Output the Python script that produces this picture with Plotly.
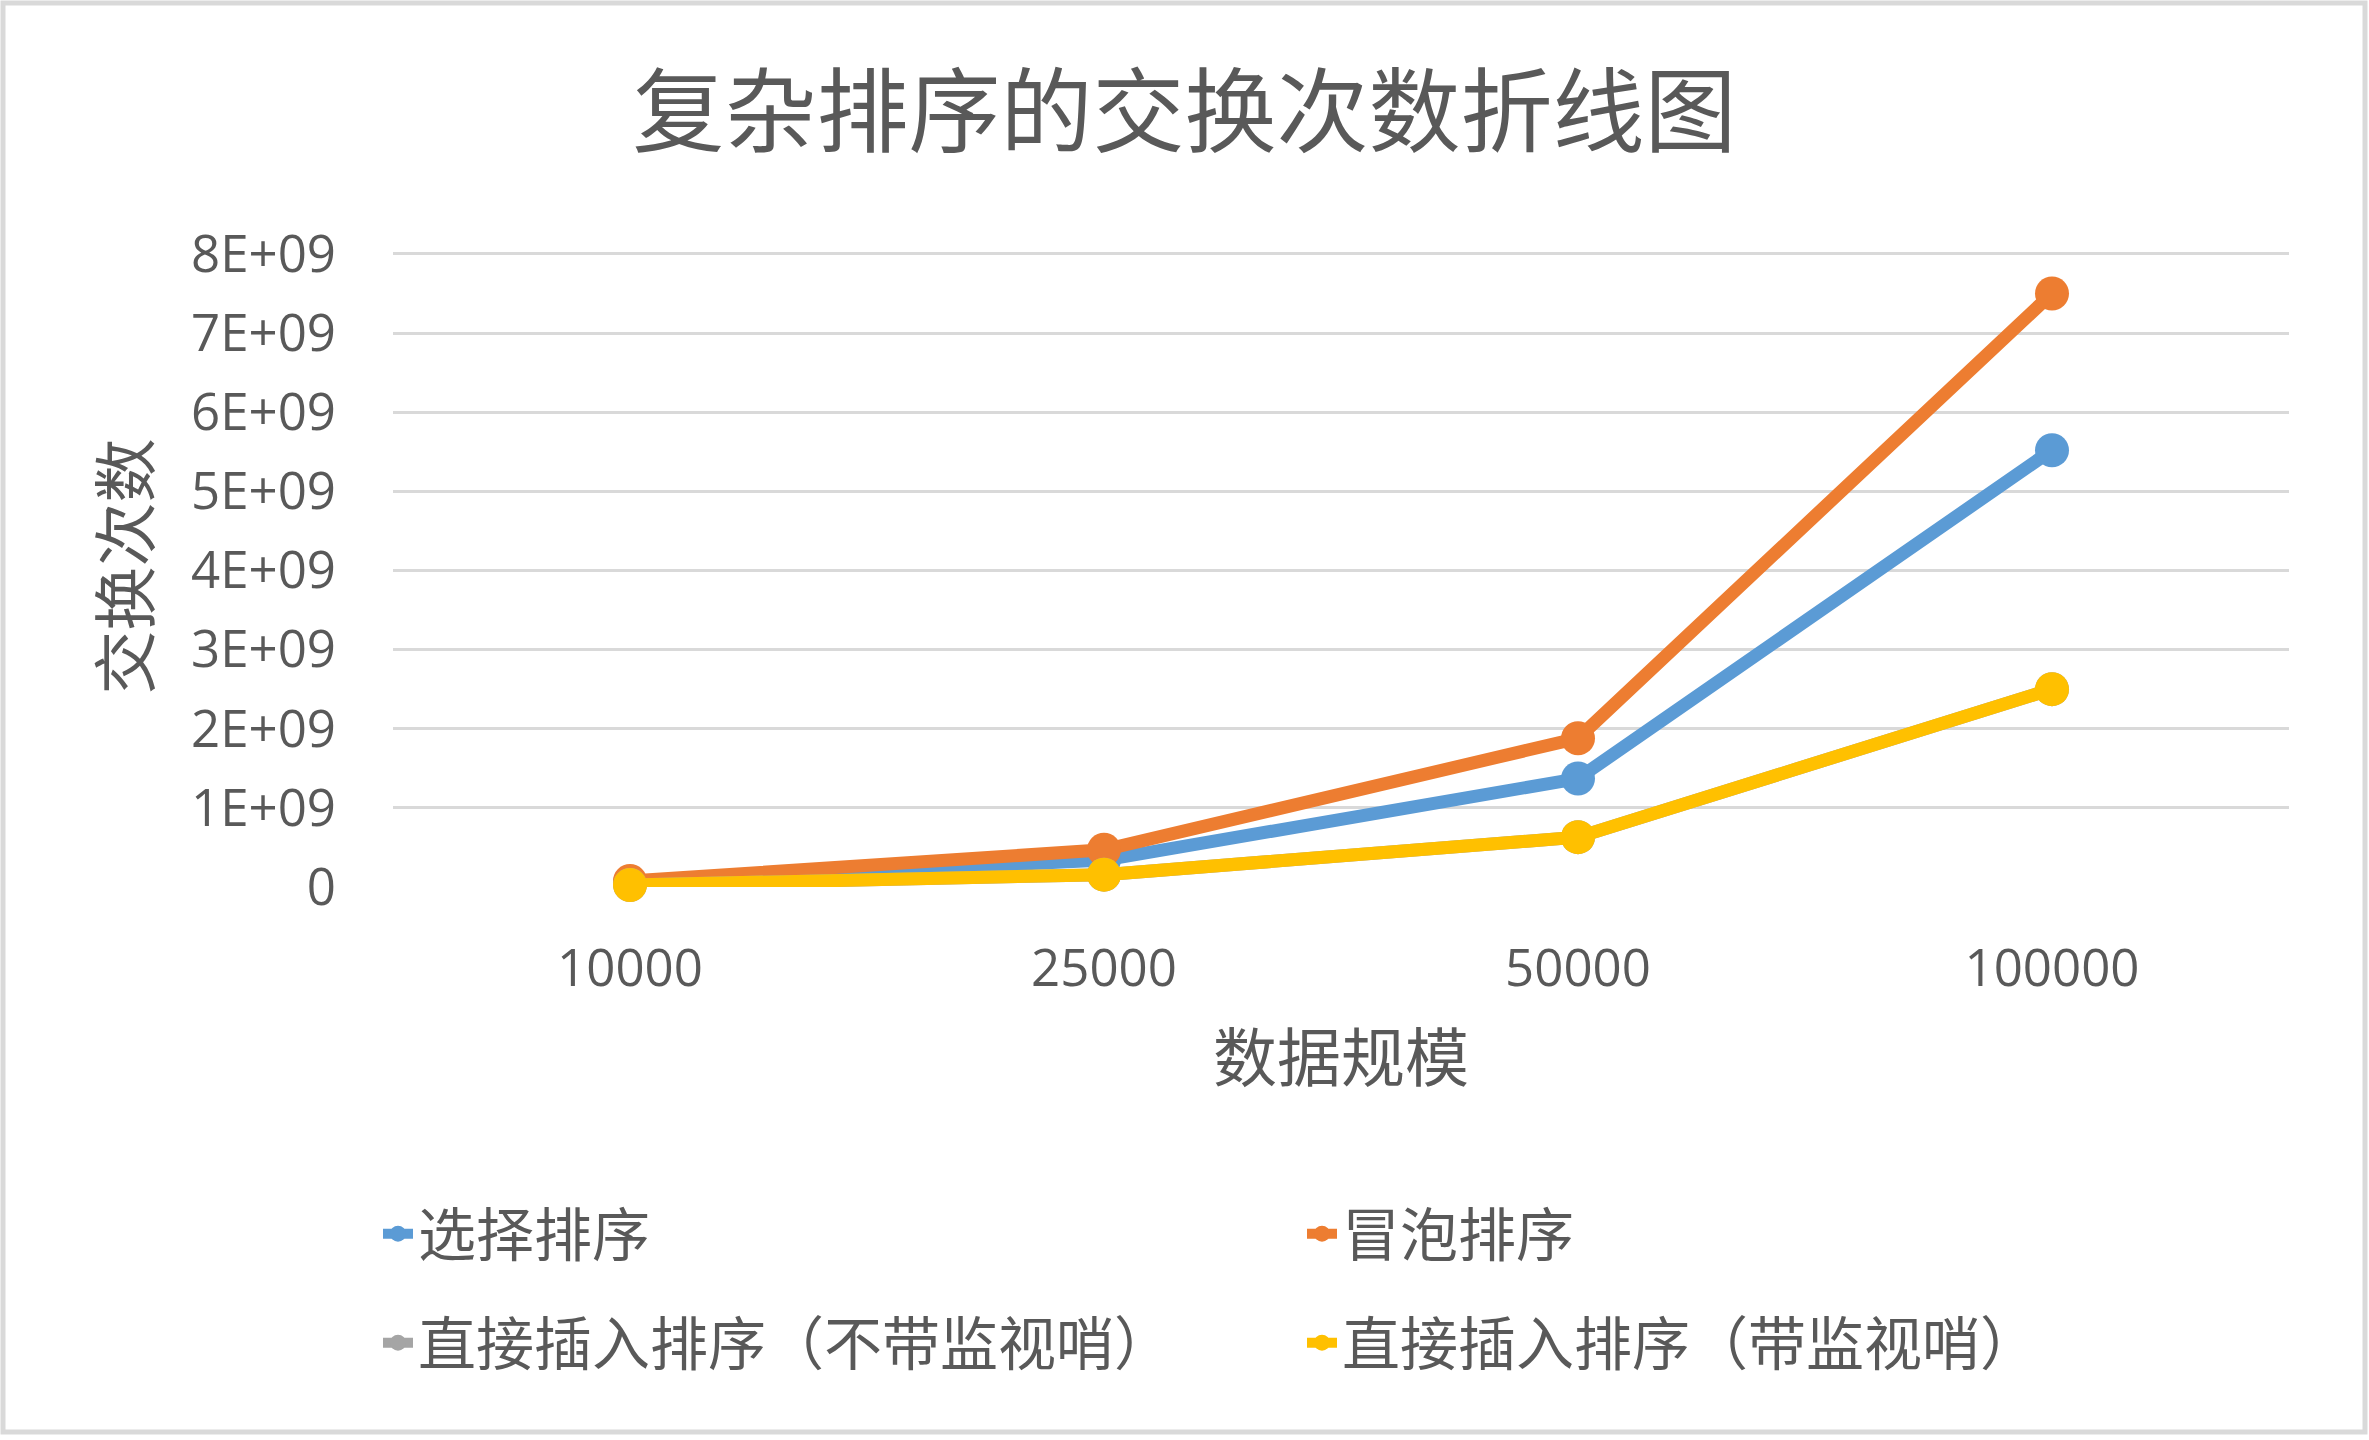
import plotly.graph_objects as go

# ---- data ----
sizes = ["10000", "25000", "50000", "100000"]
selection_sort = [5.5e7, 3.4e8, 1.37e9, 5.52e9]
bubble_sort = [7.5e7, 4.7e8, 1.88e9, 7.5e9]
insertion_no_sentinel = [2.5e7, 1.56e8, 6.3e8, 2.5e9]
insertion_sentinel = [2.5e7, 1.56e8, 6.3e8, 2.5e9]
series_names = ["选择排序", "冒泡排序", "直接插入排序（不带监视哨）", "直接插入排序（带监视哨）"]
y_tickvals = [0, 1e9, 2e9, 3e9, 4e9, 5e9, 6e9, 7e9, 8e9]
y_ticktext = ["0", "1E+09", "2E+09", "3E+09", "4E+09", "5E+09", "6E+09", "7E+09", "8E+09"]

# ---- styling ----
W, H = 2369, 1440
Y_TOP_VAL = 8e9           # value at the top gridline
Y_RANGE_MAX = 8.1e9       # a little headroom so the top gridline is drawn
TOP_GRID_PX = 254         # pixel row of the top gridline
BOTTOM_PX = 887           # pixel row of the zero line
px_per_unit = (BOTTOM_PX - TOP_GRID_PX) / Y_TOP_VAL
ML, MR = 393, 80
MT = round(TOP_GRID_PX - (Y_RANGE_MAX - Y_TOP_VAL) * px_per_unit)
MB = H - BOTTOM_PX
PW, PH = W - ML - MR, H - MT - MB
colors = ["#5B9BD5", "#ED7D31", "#A5A5A5", "#FFC000"]
TXT = "#595959"
CJK = "Noto Sans CJK SC"
LAT = "Open Sans, Noto Sans CJK SC"

fig = go.Figure()
all_series = [selection_sort, bubble_sort, insertion_no_sentinel, insertion_sentinel]
legend_ids = ["legend", "legend2", "legend3", "legend4"]
for name, vals, c, lg in zip(series_names, all_series, colors, legend_ids):
    fig.add_trace(go.Scatter(
        x=sizes, y=vals, name=name, mode="lines+markers",
        line=dict(color=c, width=13),
        marker=dict(color=c, size=34, symbol="circle"),
        legend=lg, cliponaxis=False, showlegend=True,
    ))

def px2cx(px):
    return px / W

def py2cy(py):
    return 1 - py / H

leg_common = dict(
    orientation="h", xref="container", yref="container",
    xanchor="left", yanchor="middle", visible=True,
    font=dict(family=CJK, size=58, color=TXT),
    bgcolor="rgba(0,0,0,0)", borderwidth=0, itemwidth=30,
)
col_x = [378, 1302]
row_y = [1234, 1343]
fig.update_layout(
    showlegend=True,
    legend=dict(x=px2cx(col_x[0]), y=py2cy(row_y[0]), **leg_common),
    legend2=dict(x=px2cx(col_x[1]), y=py2cy(row_y[0]), **leg_common),
    legend3=dict(x=px2cx(col_x[0]), y=py2cy(row_y[1]), **leg_common),
    legend4=dict(x=px2cx(col_x[1]), y=py2cy(row_y[1]), **leg_common),
)

fig.update_layout(
    width=W, height=H,
    margin=dict(l=ML, r=MR, t=MT, b=MB, autoexpand=False),
    paper_bgcolor="white", plot_bgcolor="white",
    title=dict(text="复杂排序的交换次数折线图", xref="container", x=0.5, xanchor="center",
               yref="container", y=py2cy(113), yanchor="middle",
               font=dict(family=CJK, size=92, color=TXT)),
    xaxis=dict(
        type="category", range=[-0.5, 3.5], showgrid=False, zeroline=False,
        showline=False, ticks="", ticklabelstandoff=47,
        tickfont=dict(family=LAT, size=51, color=TXT),
        title=dict(text="数据规模", font=dict(family=CJK, size=64, color=TXT), standoff=36),
    ),
    yaxis=dict(
        range=[0, Y_RANGE_MAX], tickvals=y_tickvals, ticktext=y_ticktext,
        showgrid=True, gridcolor="#D9D9D9", gridwidth=3, zeroline=False,
        showline=False, ticks="", ticklabelstandoff=56,
        tickfont=dict(family=LAT, size=51, color=TXT),
        title=dict(text="交换次数", font=dict(family=CJK, size=64, color=TXT), standoff=20),
    ),
)

# outer chart frame
fig.add_shape(type="rect", xref="paper", yref="paper",
              x0=(3 - ML) / PW, x1=(W - 4 - ML) / PW,
              y0=(H - MB - (H - 8)) / PH, y1=(H - MB - 3) / PH,
              line=dict(color="#D9D9D9", width=5), fillcolor="rgba(0,0,0,0)", layer="below")

fig.write_html("out.html")
